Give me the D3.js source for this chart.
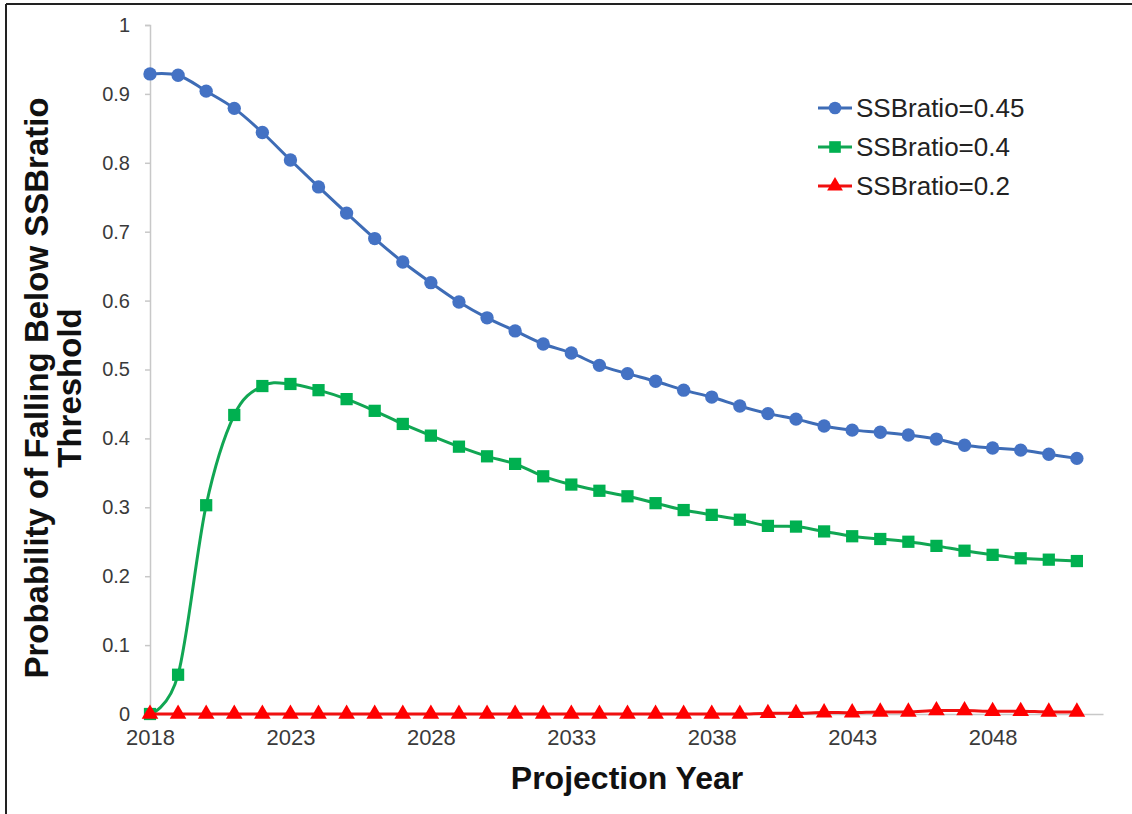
<!DOCTYPE html>
<html>
<head>
<meta charset="utf-8">
<script src="https://cdn.jsdelivr.net/npm/d3@7"></script>
<style>
  html, body { margin: 0; padding: 0; background: #fff; }
  svg { display: block; font-family: "Liberation Sans", Arial, sans-serif; }
</style>
</head>
<body>
<svg id="chart" width="1132" height="814"></svg>
<script>
// Projection years and probability series
const years = d3.range(2018, 2052);
const ssb045 = [0.929, 0.927, 0.904, 0.879, 0.844, 0.804, 0.765, 0.727, 0.690, 0.656,
                0.626, 0.598, 0.575, 0.556, 0.537, 0.524, 0.506, 0.494, 0.483, 0.470,
                0.460, 0.447, 0.436, 0.428, 0.418, 0.412, 0.409, 0.405, 0.399, 0.390,
                0.386, 0.383, 0.377, 0.371];
const ssb04  = [0.000, 0.057, 0.303, 0.434, 0.476, 0.479, 0.470, 0.457, 0.440, 0.421,
                0.404, 0.388, 0.374, 0.363, 0.345, 0.333, 0.324, 0.316, 0.306, 0.296,
                0.289, 0.282, 0.273, 0.272, 0.265, 0.258, 0.254, 0.250, 0.244, 0.237,
                0.231, 0.226, 0.224, 0.222];
const ssb02  = [0, 0, 0, 0, 0, 0, 0, 0, 0, 0,
                0, 0, 0, 0, 0, 0, 0, 0, 0, 0,
                0, 0, 0.001, 0.001, 0.002, 0.002, 0.003, 0.003, 0.005, 0.005,
                0.004, 0.004, 0.003, 0.003];
const xTickYears = [2018, 2023, 2028, 2033, 2038, 2043, 2048];
const yTickValues = [0, 0.1, 0.2, 0.3, 0.4, 0.5, 0.6, 0.7, 0.8, 0.9, 1];
const seriesNames = ["SSBratio=0.45", "SSBratio=0.4", "SSBratio=0.2"];

const series = [
  { name: seriesNames[0], values: ssb045, line: "#3E6CB6", fill: "#4472C4", symbol: d3.symbolCircle, size: 140 },
  { name: seriesNames[1], values: ssb04,  line: "#11A653", fill: "#00B050", symbol: d3.symbolSquare, size: 150 },
  { name: seriesNames[2], values: ssb02,  line: "#F01010", fill: "#FF0000", symbol: d3.symbolTriangle, size: 120 }
];

const svg = d3.select("#chart");

// frame edges
svg.append("line").attr("x1", 6).attr("y1", 4).attr("x2", 1132).attr("y2", 4)
  .attr("stroke", "#222").attr("stroke-width", 2);
svg.append("line").attr("x1", 6).attr("y1", 4).attr("x2", 6).attr("y2", 814)
  .attr("stroke", "#222").attr("stroke-width", 2);

const x = d3.scaleLinear().domain([2018, 2051.93]).range([150, 1103]);
const y = d3.scaleLinear().domain([0, 1]).range([714, 25]);

// y axis
const yAxis = svg.append("g").attr("transform", "translate(150,0)")
  .call(d3.axisLeft(y).tickValues(yTickValues).tickSize(5).tickPadding(15)
    .tickFormat(d => (d === 0 || d === 1) ? String(d) : d3.format(".1f")(d)));
yAxis.select(".domain").attr("stroke", "#c8c8c8").attr("stroke-width", 1.5);
yAxis.selectAll(".tick line").attr("stroke", "#c8c8c8").attr("stroke-width", 1.5);
yAxis.selectAll(".tick text").attr("fill", "#3a3a3a").style("font-size", "20px")
  .attr("font-family", "Liberation Sans, Arial, sans-serif");

// x axis
const xAxis = svg.append("g").attr("transform", "translate(0,714)")
  .call(d3.axisBottom(x).tickValues(xTickYears).tickSize(0).tickPadding(15)
    .tickFormat(d3.format("d")));
xAxis.select(".domain").attr("stroke", "#c8c8c8").attr("stroke-width", 1.5);
xAxis.selectAll(".tick text").attr("fill", "#3a3a3a").style("font-size", "22px")
  .attr("font-family", "Liberation Sans, Arial, sans-serif");

// series lines and markers
const line = d3.line().x((d, i) => x(years[i])).y(d => y(d)).curve(d3.curveCatmullRom.alpha(0));
series.forEach(s => {
  svg.append("path").datum(s.values).attr("d", line)
    .attr("fill", "none").attr("stroke", s.line).attr("stroke-width", 3);
  svg.append("g").selectAll("path").data(s.values).join("path")
    .attr("transform", (d, i) => `translate(${x(years[i])},${y(d)})`)
    .attr("d", d3.symbol().type(s.symbol).size(s.size))
    .attr("fill", s.fill);
});

// legend
const legend = svg.append("g").attr("transform", "translate(818,108)");
series.forEach((s, i) => {
  const g = legend.append("g").attr("transform", `translate(0,${i * 39})`);
  g.append("line").attr("x1", 0).attr("x2", 34).attr("y1", 0).attr("y2", 0)
    .attr("stroke", s.line).attr("stroke-width", 3);
  g.append("path").attr("transform", "translate(17,0)")
    .attr("d", d3.symbol().type(s.symbol).size(s.size * 0.9)).attr("fill", s.fill);
  g.append("text").attr("x", 38).attr("y", 0).attr("dy", "0.35em")
    .style("font-size", "26px").attr("fill", "#222").text(s.name);
});

// axis titles
svg.append("text").attr("x", 627).attr("y", 789).attr("text-anchor", "middle")
  .style("font-size", "32px").style("font-weight", "bold").attr("fill", "#111")
  .text("Projection Year");
const yTitle = svg.append("text").attr("transform", "translate(0,388) rotate(-90)")
  .attr("text-anchor", "middle").style("font-size", "33px").style("font-weight", "bold")
  .attr("fill", "#111");
yTitle.append("tspan").attr("x", 0).attr("y", 48).text("Probability of Falling Below SSBratio");
yTitle.append("tspan").attr("x", 0).attr("y", 81).text("Threshold");
</script>
</body>
</html>
